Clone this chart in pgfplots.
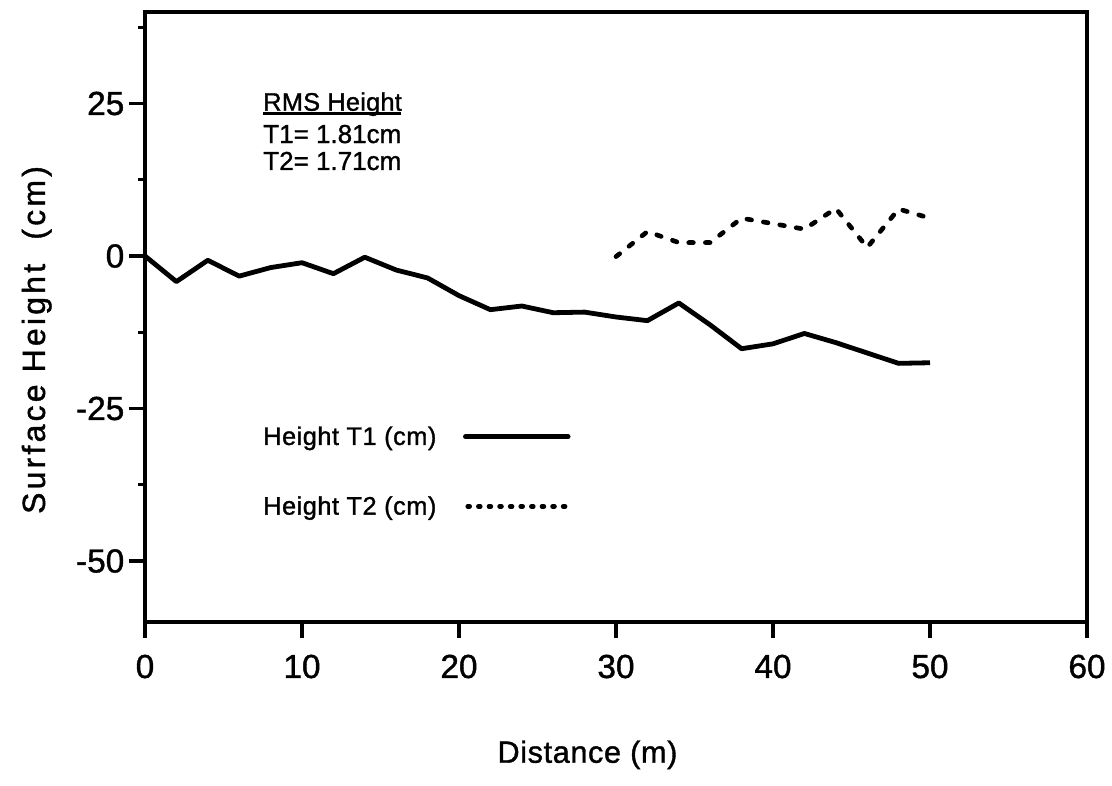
\documentclass[border=0pt]{standalone}
\usepackage{fontspec}
\setmainfont{Liberation Sans}[FakeBold=1.2]
\usepackage{pgfplots}
\pgfplotsset{compat=1.18}
\begin{document}
\begin{tikzpicture}
\useasboundingbox (-108.75pt,-122.25pt) rectangle (725.25pt,466.5pt);
\begin{axis}[
  at={(0pt,0pt)}, anchor=south west,
  scale only axis, width=706.5pt, height=457.5pt,
  xmin=0, xmax=60, ymin=-60, ymax=40,
  xtick={0,10,...,60}, ytick={-50,-25,0,25},
  minor ytick={-37.5,-12.5,12.5,37.5},
  xtick pos=bottom, ytick pos=left,
  tick align=outside,
  major tick length=12pt, minor tick length=5pt,
  tick style={line width=2.4pt, black},
  axis line style={line width=2.6pt},
  /pgf/number format/assume math mode=true,
  ticklabel style={font=\fontsize{25}{28}\selectfont},
  xticklabel style={yshift=-9pt},
  xlabel={Distance (m)},
  ylabel={Surface Height\ \ (cm)},
  xlabel style={at={(axis description cs:0.4697,-0.2307)}, anchor=base, font=\fontsize{23}{26}\selectfont\addfontfeature{LetterSpace=2}},
  ylabel style={at={(axis description cs:-0.1062,0.4623)}, anchor=base, rotate=0, font=\fontsize{24}{26}\selectfont\addfontfeature{LetterSpace=10}},
  legend plot pos=right,
  legend cell align=left,
  legend style={at={(axis description cs:0.1253,0.3208)}, anchor=north west, draw=none, fill=none,
    font=\fontsize{19}{21}\selectfont\addfontfeature{LetterSpace=2}, row sep=37pt, column sep=20pt,
    inner sep=0pt, nodes={inner sep=0pt}},
  clip=false,
]
\addplot[black, line width=3.6pt, line join=round,
  legend image code/.code={\draw[black, line width=3.6pt, line cap=round] (0pt,0pt) -- (77pt,0pt);}]
coordinates {
(0,0) (2,-4.2) (4,-0.7) (6,-3.3) (8,-1.9) (10,-1.1) (12,-2.9) (14,-0.2)
(16,-2.3) (18,-3.6) (20,-6.5) (22,-8.8) (24,-8.2) (26,-9.3) (28,-9.2)
(30,-10.0) (32,-10.6) (34,-7.7) (36,-11.3) (38,-15.2) (40,-14.4) (42,-12.7)
(44,-14.2) (46,-15.9) (48,-17.6) (50,-17.5)
};
\addlegendentry{Height T1 (cm)}
\addplot[black, line width=3.5pt, line cap=round, line join=round, dash pattern=on 3.5pt off 9pt,
  legend image code/.code={\draw[black, line width=3.5pt, line cap=round, dash pattern=on 1.4pt off 6.55pt] (1.75pt,0pt) -- (77pt,0pt);}]
coordinates {
(30,-0.1) (32,4.0) (34,2.2) (36,2.2) (38,6.2) (40,5.3) (42,4.4)
(44,7.8) (46,1.4) (48,7.7) (50,6.2)
};
\addlegendentry{Height T2 (cm)}
\node[anchor=base west, inner sep=0pt, font=\fontsize{19}{20}\selectfont\addfontfeature{LetterSpace=1}] at (axis description cs:0.1253,0.8382) {RMS Height};
\draw[line width=2.2pt] (axis description cs:0.1253,0.8336) -- (axis description cs:0.2718,0.8336);
\node[anchor=base west, inner sep=0pt, font=\fontsize{19.5}{22}\selectfont] at (axis description cs:0.1253,0.7852) {T1= 1.81cm};
\node[anchor=base west, inner sep=0pt, font=\fontsize{19.5}{22}\selectfont] at (axis description cs:0.1253,0.7410) {T2= 1.71cm};
\end{axis}
\end{tikzpicture}
\end{document}
